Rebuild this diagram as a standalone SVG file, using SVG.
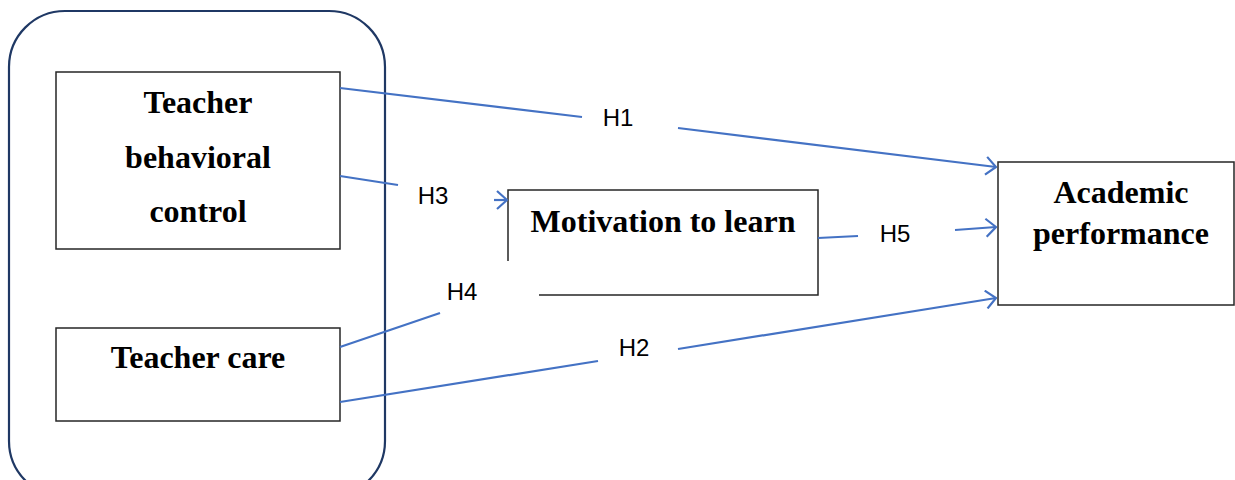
<svg xmlns="http://www.w3.org/2000/svg" width="1235" height="480" viewBox="0 0 1235 480">
  <style>
    .box { fill: #ffffff; stroke: #262626; stroke-width: 1.5; }
    .edge { fill: none; stroke: #262626; stroke-width: 1.5; }
    .frame { fill: none; stroke: #1f3864; stroke-width: 2.2; }
    .title { font-family: "Liberation Serif", "Times New Roman", serif; font-weight: bold; font-size: 32px; fill: #000; text-anchor: middle; }
    .link { fill: none; stroke: #4472c4; stroke-width: 2.2; }
    .hyp { font-family: "Liberation Sans", Arial, sans-serif; font-size: 24px; fill: #000; text-anchor: middle; }
  </style>
  <defs>
    <marker id="arrow" viewBox="0 0 12 20" refX="11" refY="10" markerWidth="12" markerHeight="20" markerUnits="userSpaceOnUse" orient="auto">
      <path d="M1,1 L11,10 L1,19" fill="none" stroke="#4472c4" stroke-width="2.2"/>
    </marker>
  </defs>
  <rect width="1235" height="480" fill="#ffffff"/>

  <!-- grouping frame around the two teacher constructs -->
  <g id="teacher-group">
    <rect class="frame" x="9" y="11" width="376" height="486" rx="56" ry="56"/>
  </g>

  <g id="node-behavioral-control">
    <rect class="box" x="56" y="72" width="284" height="177"/>
    <text class="title" x="198" y="113">Teacher</text>
    <text class="title" x="198" y="168">behavioral</text>
    <text class="title" x="198" y="222">control</text>
  </g>

  <g id="node-teacher-care">
    <rect class="box" x="56" y="328" width="284" height="93"/>
    <text class="title" x="198" y="368">Teacher care</text>
  </g>

  <g id="node-motivation">
    <path class="edge" d="M508,261 L508,190 L818,190 L818,295 L539,295"/>
    <text class="title" x="663" y="232">Motivation to learn</text>
  </g>

  <g id="node-academic">
    <rect class="box" x="998" y="162" width="236" height="143"/>
    <text class="title" x="1121" y="203">Academic</text>
    <text class="title" x="1121" y="244">performance</text>
  </g>

  <g id="connectors">
    <!-- H1: behavioral control -> academic performance -->
    <line class="link" x1="340" y1="88" x2="582" y2="117"/>
    <line class="link" x1="678" y1="128" x2="996" y2="167" marker-end="url(#arrow)"/>
    <!-- H3: behavioral control -> motivation -->
    <line class="link" x1="340" y1="176" x2="398" y2="185"/>
    <line class="link" x1="494" y1="200" x2="507" y2="200" marker-end="url(#arrow)"/>
    <!-- H5: motivation -> academic performance -->
    <line class="link" x1="818" y1="238" x2="858" y2="236"/>
    <line class="link" x1="955" y1="230" x2="996" y2="227" marker-end="url(#arrow)"/>
    <!-- H4: teacher care -> motivation -->
    <line class="link" x1="340" y1="347" x2="440" y2="313"/>
    <!-- H2: teacher care -> academic performance -->
    <line class="link" x1="340" y1="402" x2="598" y2="361"/>
    <line class="link" x1="678" y1="349" x2="996" y2="298" marker-end="url(#arrow)"/>
  </g>

  <g id="hypothesis-labels">
    <text class="hyp" x="618" y="126">H1</text>
    <text class="hyp" x="433" y="204">H3</text>
    <text class="hyp" x="895" y="242">H5</text>
    <text class="hyp" x="462" y="300">H4</text>
    <text class="hyp" x="634" y="356">H2</text>
  </g>
</svg>
